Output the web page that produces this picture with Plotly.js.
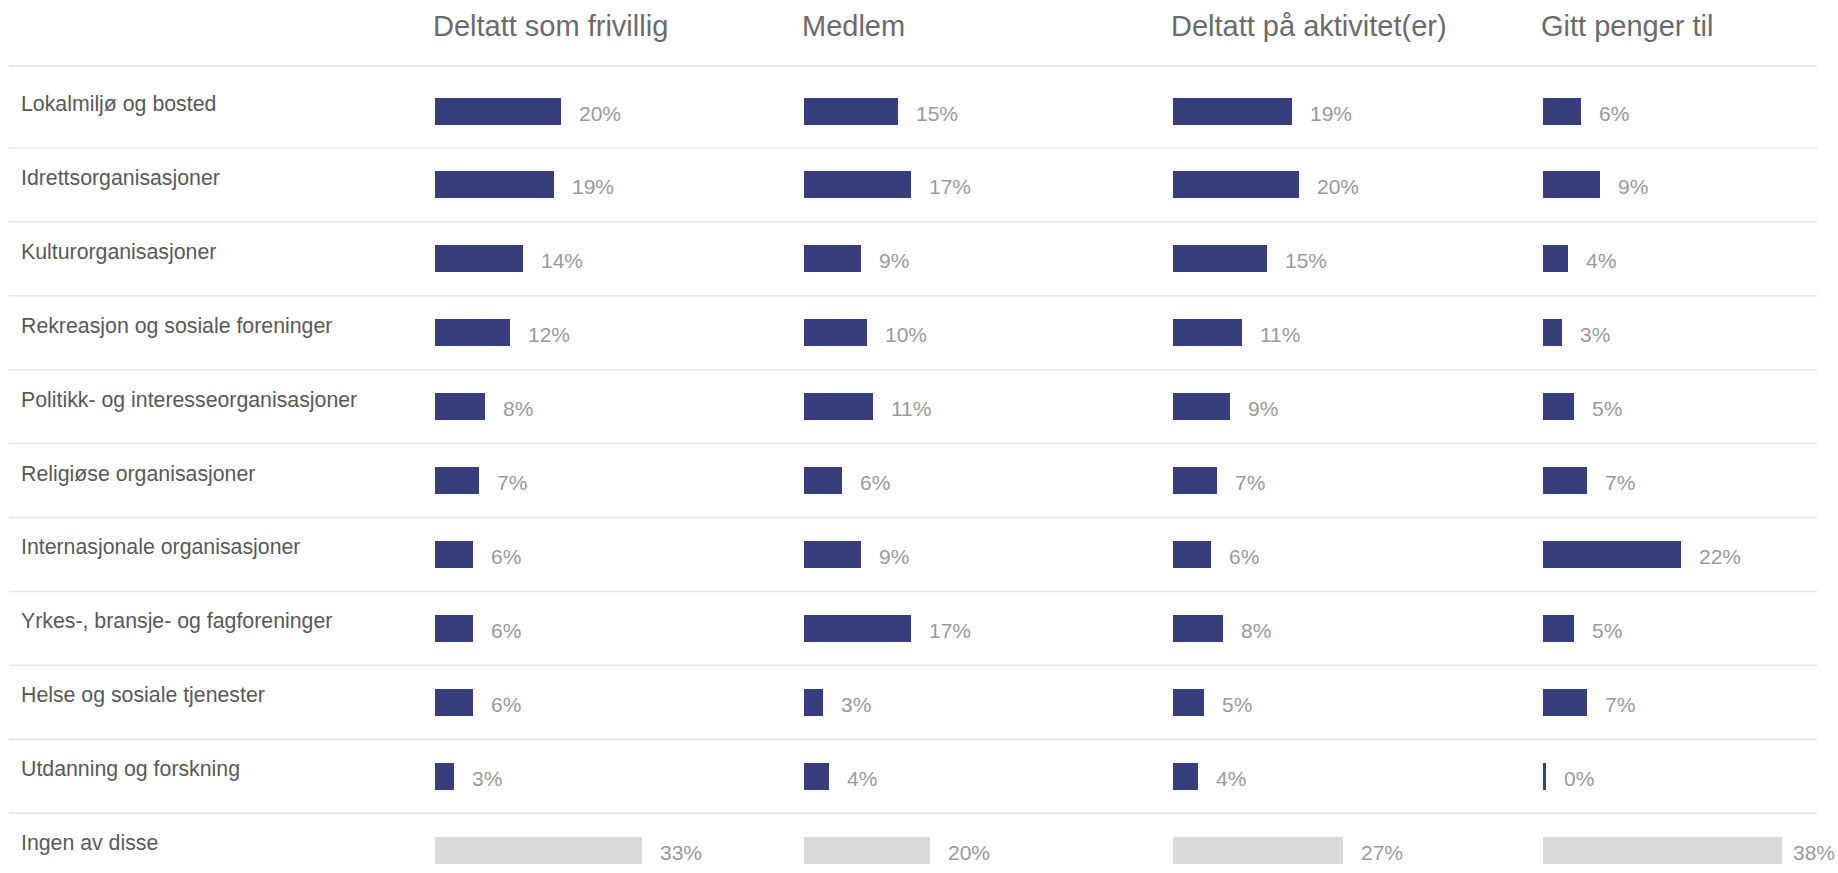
<!DOCTYPE html>
<html>
<head>
<meta charset="utf-8">
<script src="https://cdn.plot.ly/plotly-3.0.1.min.js"></script>
<style>html,body{margin:0;padding:0;background:#fff;}#chart{width:1838px;height:873px;}</style>
</head>
<body>
<div id="chart"></div>
<script>
const categories = [
  "Lokalmiljø og bosted",
  "Idrettsorganisasjoner",
  "Kulturorganisasjoner",
  "Rekreasjon og sosiale foreninger",
  "Politikk- og interesseorganisasjoner",
  "Religiøse organisasjoner",
  "Internasjonale organisasjoner",
  "Yrkes-, bransje- og fagforeninger",
  "Helse og sosiale tjenester",
  "Utdanning og forskning",
  "Ingen av disse"
];
const columnTitles = ["Deltatt som frivillig", "Medlem", "Deltatt på aktivitet(er)", "Gitt penger til"];
const frivillig = [20, 19, 14, 12, 8, 7, 6, 6, 6, 3, 33];
const medlem    = [15, 17, 9, 10, 11, 6, 9, 17, 3, 4, 20];
const aktivitet = [19, 20, 15, 11, 9, 7, 6, 8, 5, 4, 27];
const penger    = [6, 9, 4, 3, 5, 7, 22, 5, 7, 0.4, 38];

const series = [frivillig, medlem, aktivitet, penger];
const W = 1838, H = 873;
const FONT = "Liberation Sans, Arial, Helvetica, sans-serif";
const NAVY = "#363f7b", GREY = "#d9d9d9";
const colStarts = [435, 804, 1173, 1543];
const pxPerPct = 6.28;
const xMax = 40;
const labelGap = 18;
const labelWidth = 42;
const rightLimit = 1835;

const traces = [];
const annotations = [];
const layout = {
  width: W, height: H,
  margin: {l: 0, r: 0, t: 0, b: 0},
  paper_bgcolor: "#fff", plot_bgcolor: "#fff",
  showlegend: false,
  bargap: 0,
  font: {family: FONT},
  yaxis: {type: "category", range: [10.31, -1.502], visible: false, fixedrange: true},
  shapes: [],
  annotations: annotations
};

series.forEach((vals, k) => {
  const ax = k === 0 ? "x" : "x" + (k + 1);
  const axName = k === 0 ? "xaxis" : "xaxis" + (k + 1);
  const d0 = colStarts[k] / W;
  const d1 = (colStarts[k] + xMax * pxPerPct) / W;
  layout[axName] = {domain: [d0, d1], range: [0, xMax], visible: false, fixedrange: true, anchor: "y"};
  traces.push({
    type: "bar", orientation: "h",
    x: vals, y: categories,
    xaxis: ax, yaxis: "y",
    width: 0.365,
    marker: {color: categories.map((c, i) => i === categories.length - 1 ? GREY : NAVY), line: {width: 0}},
    hoverinfo: "skip"
  });
  vals.forEach((v, i) => {
    const barEnd = colStarts[k] + v * pxPerPct;
    const shift = Math.min(labelGap, rightLimit - labelWidth - barEnd);
    annotations.push({
      x: v, y: categories[i], xref: ax, yref: "y",
      text: Math.round(v) + "%", showarrow: false,
      xanchor: "left", yanchor: "middle", xshift: shift, yshift: -2,
      borderpad: 0, borderwidth: 0,
      font: {family: FONT, size: 21, color: "#9a9a9a"}
    });
  });
  annotations.push({
    x: 0, xref: ax + " domain", xshift: -4, y: 1 - 26 / H, yref: "paper",
    text: columnTitles[k], showarrow: false, xanchor: "left", yanchor: "middle",
    font: {family: FONT, size: 29, color: "#6b6b6b"}
  });
});

categories.forEach((c, i) => {
  annotations.push({
    x: 19 / W, xref: "paper", y: c, yref: "y",
    text: c, showarrow: false, xanchor: "left", yanchor: "middle", yshift: 7,
    font: {family: FONT, size: 21.3, color: "#595959"}
  });
});

const lineYs = [-0.609];
for (let i = 0; i < categories.length - 1; i++) lineYs.push(i + 0.5);
lineYs.forEach(y => {
  layout.shapes.push({type: "line", xref: "paper", yref: "y", x0: 9 / W, x1: 1817 / W, y0: y, y1: y,
    line: {color: "#e6e6e6", width: 1.5}, layer: "below"});
});

Plotly.newPlot("chart", traces, layout, {displayModeBar: false, staticPlot: true});
</script>
</body>
</html>
